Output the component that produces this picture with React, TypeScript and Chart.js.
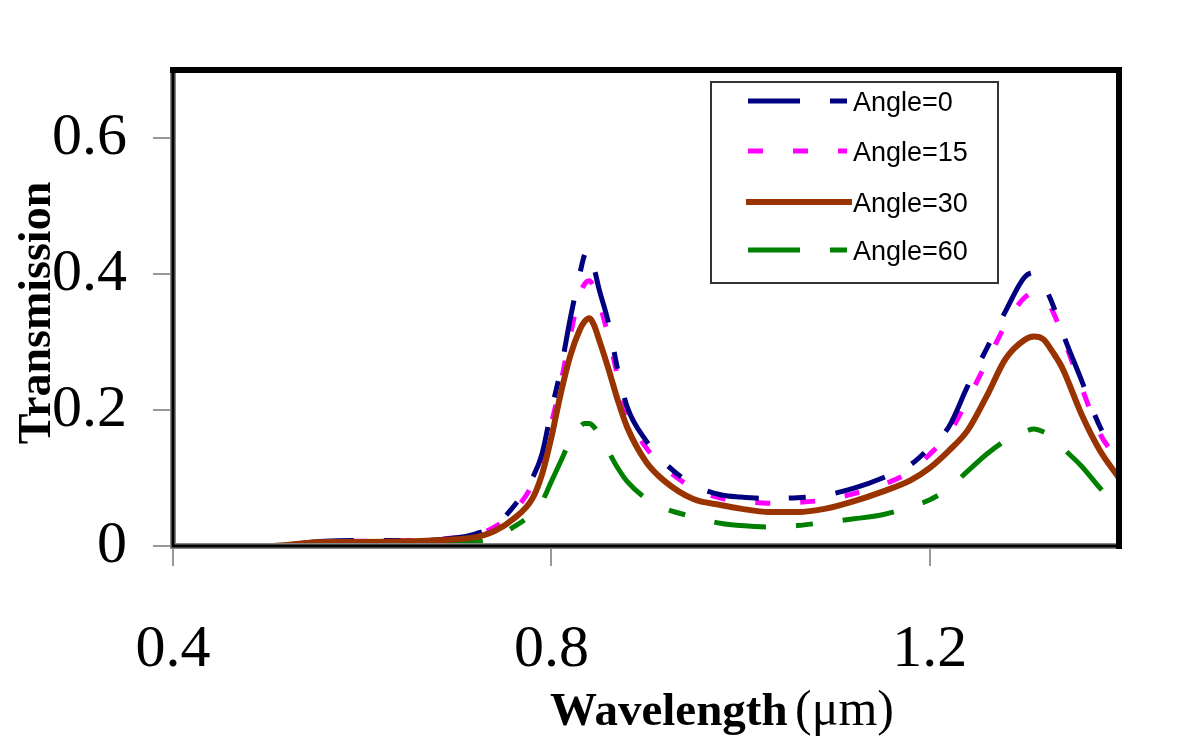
import React, { useEffect, useRef } from "react";
import { Chart, registerables } from "chart.js";

Chart.register(...registerables);

const wavelength = [0.40, 0.50, 0.56, 0.60, 0.65, 0.70, 0.72, 0.74, 0.76, 0.78, 0.79, 0.80, 0.81, 0.82, 0.83, 0.835, 0.84, 0.845, 0.85, 0.86, 0.87, 0.88, 0.90, 0.92, 0.95, 0.98, 1.00, 1.03, 1.06, 1.09, 1.12, 1.15, 1.18, 1.20, 1.22, 1.24, 1.26, 1.28, 1.30, 1.31, 1.32, 1.33, 1.34, 1.36, 1.38, 1.40];
const angle0 = [0, 0, 0.007, 0.008, 0.008, 0.012, 0.018, 0.03, 0.058, 0.1, 0.135, 0.2, 0.26, 0.335, 0.4, 0.428, 0.435, 0.41, 0.38, 0.33, 0.26, 0.205, 0.155, 0.122, 0.09, 0.075, 0.072, 0.07, 0.071, 0.075, 0.085, 0.1, 0.12, 0.145, 0.175, 0.235, 0.29, 0.345, 0.395, 0.402, 0.385, 0.355, 0.315, 0.245, 0.175, 0.13];
const angle15 = [0, 0, 0.006, 0.007, 0.008, 0.012, 0.016, 0.028, 0.05, 0.09, 0.12, 0.18, 0.24, 0.31, 0.37, 0.385, 0.39, 0.38, 0.36, 0.31, 0.25, 0.195, 0.145, 0.115, 0.085, 0.07, 0.066, 0.063, 0.064, 0.068, 0.077, 0.09, 0.11, 0.135, 0.165, 0.215, 0.27, 0.325, 0.365, 0.372, 0.365, 0.345, 0.31, 0.235, 0.165, 0.125];
const angle30 = [0, 0, 0.006, 0.006, 0.007, 0.01, 0.013, 0.022, 0.04, 0.07, 0.105, 0.16, 0.225, 0.28, 0.318, 0.33, 0.335, 0.325, 0.305, 0.262, 0.215, 0.175, 0.124, 0.095, 0.069, 0.06, 0.055, 0.05, 0.05, 0.055, 0.066, 0.08, 0.097, 0.115, 0.14, 0.17, 0.22, 0.275, 0.303, 0.308, 0.304, 0.285, 0.262, 0.195, 0.14, 0.1];
const angle60 = [0, 0, 0.002, 0.003, 0.003, 0.004, 0.006, 0.012, 0.028, 0.048, 0.065, 0.095, 0.125, 0.155, 0.175, 0.18, 0.18, 0.175, 0.165, 0.14, 0.115, 0.095, 0.07, 0.055, 0.043, 0.033, 0.03, 0.028, 0.03, 0.035, 0.04, 0.046, 0.058, 0.068, 0.085, 0.11, 0.135, 0.155, 0.168, 0.172, 0.168, 0.16, 0.145, 0.118, 0.085, 0.055];

const seriesLabels = ["Angle=0", "Angle=15", "Angle=30", "Angle=60"];
const xTicks = [0.4, 0.8, 1.2];
const yTicks = [0, 0.2, 0.4, 0.6];

const colors = ["#000080", "#FF00FF", "#993300", "#008000"];
const dashes: number[][] = [[52, 30, 17, 30], [15, 30], [], [52, 30, 17, 30]];
const widths = [5, 5, 6, 5];

const toPoints = (ys: number[]) => wavelength.map((x, i) => ({ x, y: ys[i] }));

const decorPlugin = {
  id: "decor",
  afterDraw(chart: any) {
    const ctx = chart.ctx as CanvasRenderingContext2D;
    const a = chart.chartArea;
    ctx.save();
    ctx.setLineDash([]);
    ctx.strokeStyle = "#888";
    ctx.lineWidth = 6;
    ctx.beginPath();
    ctx.moveTo(a.left, a.top);
    ctx.lineTo(a.left, a.bottom);
    ctx.lineTo(a.right, a.bottom);
    ctx.stroke();
    ctx.strokeStyle = "#000";
    ctx.lineWidth = 3;
    ctx.beginPath();
    ctx.moveTo(a.left, a.top);
    ctx.lineTo(a.left, a.bottom);
    ctx.lineTo(a.right, a.bottom);
    ctx.stroke();
    ctx.lineWidth = 6;
    ctx.beginPath();
    ctx.moveTo(a.left - 3, a.top);
    ctx.lineTo(a.right, a.top);
    ctx.lineTo(a.right, a.bottom + 3);
    ctx.stroke();

    // legend
    const lx = 711, ly = 82, lw = 287, lh = 201;
    ctx.fillStyle = "#fff";
    ctx.fillRect(lx, ly, lw, lh);
    ctx.strokeStyle = "#333";
    ctx.lineWidth = 2;
    ctx.strokeRect(lx, ly, lw, lh);
    const rows = [101, 151, 202, 250];
    ctx.font = "27px 'Liberation Sans', Arial, sans-serif";
    ctx.textBaseline = "middle";
    ctx.textAlign = "left";
    seriesLabels.forEach((lab, i) => {
      ctx.strokeStyle = colors[i];
      ctx.lineWidth = widths[i];
      ctx.lineCap = "butt";
      ctx.setLineDash(dashes[i]);
      ctx.beginPath();
      if (dashes[i].length === 0) {
        ctx.moveTo(746, rows[i]);
        ctx.lineTo(852, rows[i]);
      } else {
        ctx.moveTo(748, rows[i]);
        ctx.lineTo(847, rows[i]);
      }
      ctx.stroke();
      ctx.setLineDash([]);
      ctx.fillStyle = "#000";
      ctx.fillText(lab, 853, rows[i] + 3);
    });

    // axis titles
    ctx.fillStyle = "#000";
    ctx.save();
    ctx.translate(50, 313);
    ctx.rotate(-Math.PI / 2);
    ctx.textAlign = "center";
    ctx.textBaseline = "alphabetic";
    ctx.font = "bold 46px 'Liberation Serif', 'Times New Roman', serif";
    ctx.fillText("Transmission", 0, 0);
    ctx.restore();

    ctx.textAlign = "left";
    ctx.textBaseline = "alphabetic";
    ctx.font = "bold 47px 'Liberation Serif', 'Times New Roman', serif";
    ctx.fillText("Wavelength", 550, 725);
    ctx.font = "50px 'Liberation Serif', 'Times New Roman', serif";
    ctx.fillText("(\u03bcm)", 795, 725);
    ctx.restore();
  },
};

export default function App() {
  const ref = useRef<HTMLCanvasElement | null>(null);
  useEffect(() => {
    if (!ref.current) return;
    const series = [angle0, angle15, angle30, angle60];
    const chart = new Chart(ref.current, {
      type: "line",
      data: {
        datasets: series.map((ys, i) => ({
          label: seriesLabels[i],
          data: toPoints(ys),
          borderColor: colors[i],
          backgroundColor: colors[i],
          borderWidth: widths[i],
          borderDash: dashes[i],
          pointRadius: 0,
          fill: false,
          cubicInterpolationMode: "monotone" as const,
          order: i === 2 ? 0 : i === 3 ? 3 : i + 1,
        })),
      },
      options: {
        animation: false,
        responsive: false,
        layout: { padding: { left: 0, top: 70, right: 81, bottom: 0 } },
        plugins: { legend: { display: false }, tooltip: { enabled: false }, title: { display: false } },
        scales: {
          x: {
            type: "linear",
            min: 0.4,
            max: 1.4,
            afterFit: (s: any) => { s.height = 205; },
            afterBuildTicks: (s: any) => { s.ticks = xTicks.map((v) => ({ value: v })); },
            grid: { drawOnChartArea: false, drawTicks: true, tickLength: 20, color: "#999", lineWidth: 2 },
            border: { display: false },
            ticks: {
              color: "#000",
              padding: 48,
              maxRotation: 0,
              font: { family: "'Liberation Serif', 'Times New Roman', serif", size: 60 },
              callback: (v: any) => String(v),
            },
          },
          y: {
            type: "linear",
            min: 0,
            max: 0.7,
            afterFit: (s: any) => { s.width = 173; },
            afterBuildTicks: (s: any) => { s.ticks = yTicks.map((v) => ({ value: v })); },
            grid: { drawOnChartArea: false, drawTicks: true, tickLength: 20, color: "#999", lineWidth: 2 },
            border: { display: false },
            ticks: {
              color: "#000",
              padding: 26,
              font: { family: "'Liberation Serif', 'Times New Roman', serif", size: 60 },
              callback: (v: any) => String(v),
            },
          },
        },
      },
      plugins: [decorPlugin],
    });
    return () => chart.destroy();
  }, []);
  return (
    <div style={{ position: "fixed", left: 0, top: 0, width: 1200, height: 751, background: "#fff" }}>
      <canvas ref={ref} width={1200} height={751} style={{ display: "block" }} />
    </div>
  );
}
